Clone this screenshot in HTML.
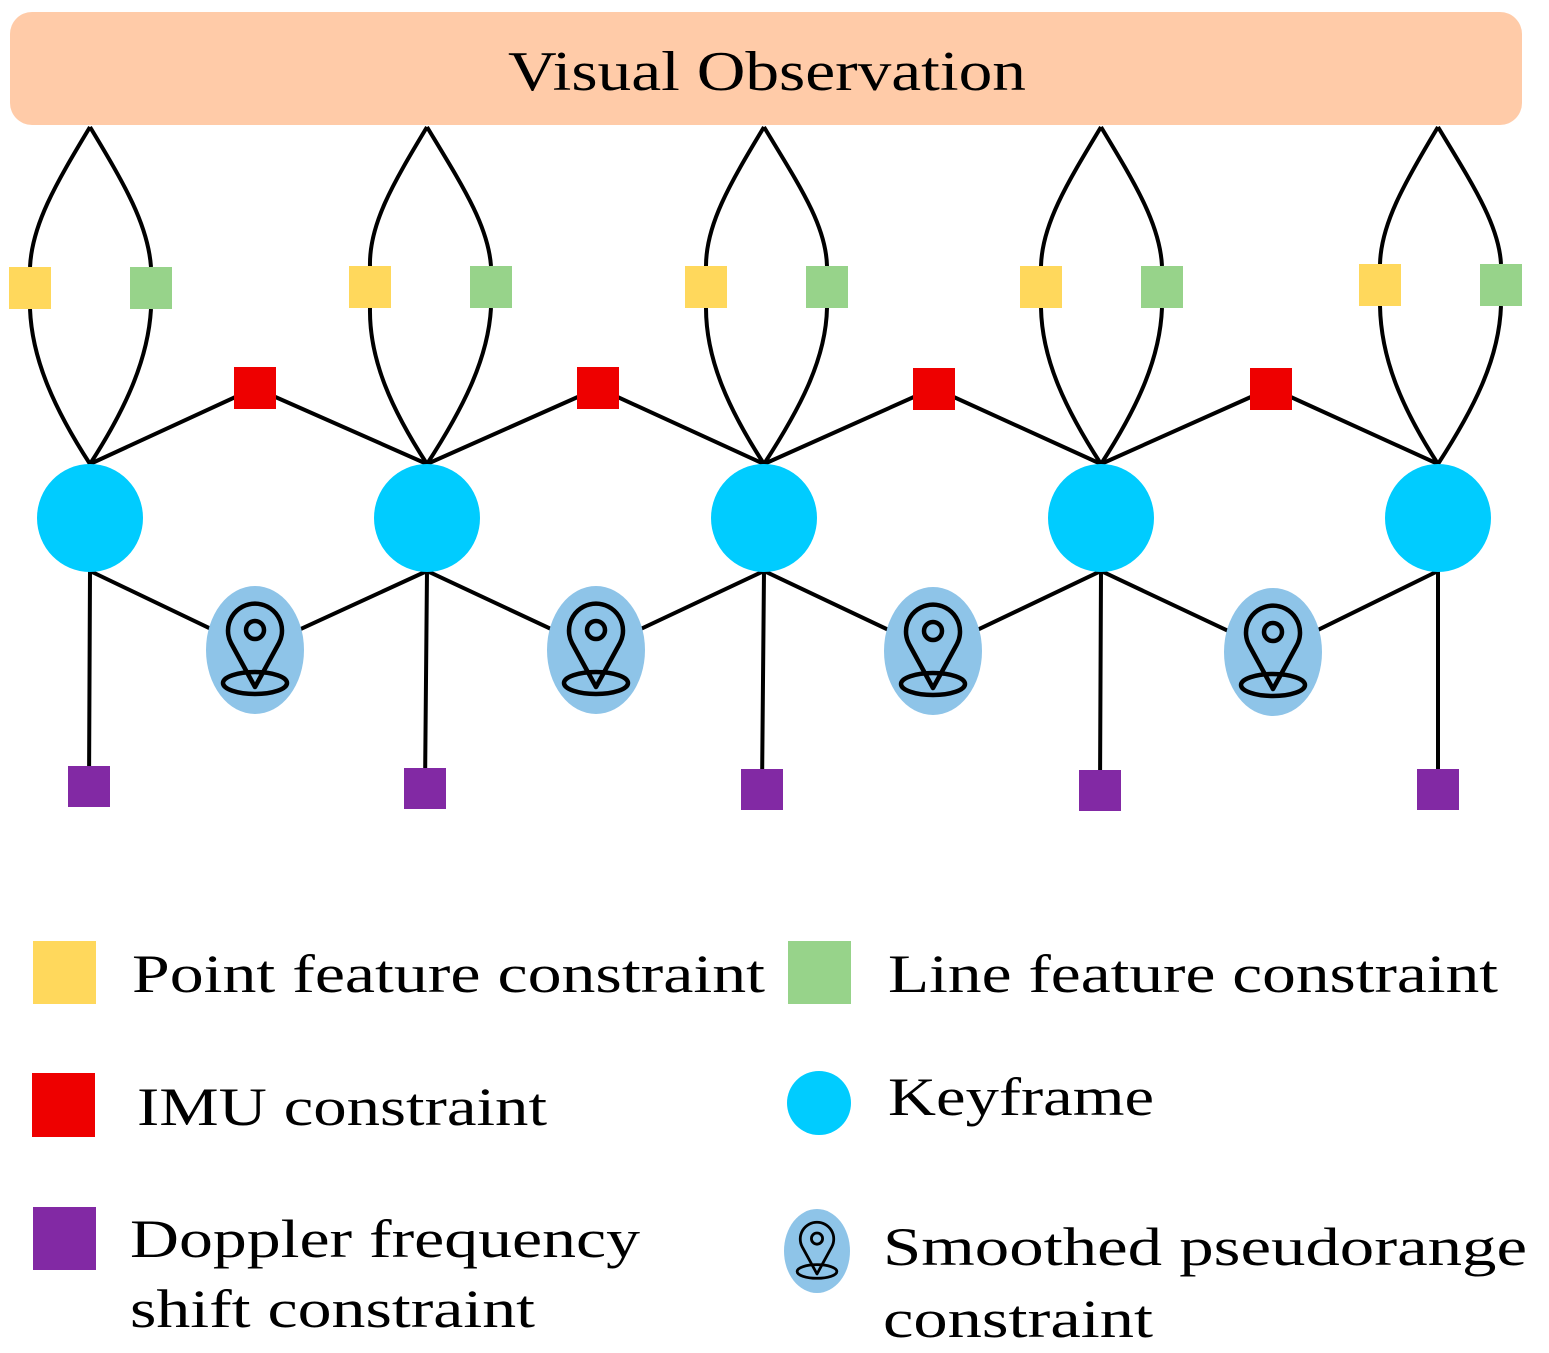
<!DOCTYPE html>
<html><head><meta charset="utf-8"><style>html,body{margin:0;padding:0;background:#fff}svg{display:block}</style></head>
<body>
<svg width="1549" height="1353" viewBox="0 0 1549 1353" xmlns="http://www.w3.org/2000/svg" font-family="'Liberation Serif', serif">
<defs>
<g id="pin">
<path d="M0,37 L-24,-7 A27,27 0 1 1 24,-7 Z" fill="none" stroke="#000" stroke-width="4.5" stroke-linejoin="round"/>
<circle cx="0" cy="-20" r="9" fill="none" stroke="#000" stroke-width="4.5"/>
<ellipse cx="0" cy="33" rx="32" ry="11" fill="none" stroke="#000" stroke-width="4.5"/>
</g>
</defs>
<rect x="10" y="12" width="1512" height="113" rx="22" fill="#FFCBA8"/>
<text x="767" y="90" font-size="56" text-anchor="middle" textLength="518" lengthAdjust="spacingAndGlyphs">Visual Observation</text>
<g stroke="#000" stroke-width="4" fill="none">
<!-- column curves -->
<path d="M90,127 C55,185 32,225 30,267 M30,309 C32,360 55,410 90,464 M90,127 C125,185 148,225 151,267 M151,309 C148,360 125,410 90,464"/>
<path d="M427,127 C392,185 369,225 370,266 M370,308 C369,360 392,410 427,464 M427,127 C462,185 488,225 491,266 M491,308 C488,360 462,410 427,464"/>
<path d="M764,127 C729,185 706,225 706,266 M706,308 C706,360 729,410 764,464 M764,127 C799,185 826,225 827,266 M827,308 C826,360 799,410 764,464"/>
<path d="M1101,127 C1066,185 1042,225 1041,266 M1041,308 C1042,360 1066,410 1101,464 M1101,127 C1136,185 1160,225 1162,266 M1162,308 C1160,360 1136,410 1101,464"/>
<path d="M1438,127 C1403,185 1381,225 1380,264 M1380,306 C1381,360 1403,410 1438,464 M1438,127 C1473,185 1499,225 1501,264 M1501,306 C1499,360 1473,410 1438,464"/>
<!-- IMU lines -->
<path d="M90,464 L255,388 L427,464 L598,388 L764,464 L934,388 L1101,464 L1271,388 L1438,464"/>
<!-- pin lines -->
<path d="M90,571 L255,650 L427,571 L596,650 L764,571 L933,651 L1101,571 L1273,652 L1438,571"/>
<!-- verticals -->
<path d="M90,571 L89,789 M427,571 L425,789 M764,571 L762,790 M1101,571 L1100,791 M1438,571 L1438,790"/>
</g>
<!-- squares -->
<g fill="#FFD85C">
<rect x="9" y="267" width="42" height="42"/><rect x="349" y="266" width="42" height="42"/><rect x="685" y="266" width="42" height="42"/><rect x="1020" y="266" width="42" height="42"/><rect x="1359" y="264" width="42" height="42"/>
</g>
<g fill="#97D38A">
<rect x="130" y="267" width="42" height="42"/><rect x="470" y="266" width="42" height="42"/><rect x="806" y="266" width="42" height="42"/><rect x="1141" y="266" width="42" height="42"/><rect x="1480" y="264" width="42" height="42"/>
</g>
<g fill="#EE0000">
<rect x="234" y="367" width="42" height="42"/><rect x="577" y="367" width="42" height="42"/><rect x="913" y="368" width="42" height="42"/><rect x="1250" y="368" width="42" height="42"/>
</g>
<g fill="#8229A4">
<rect x="68" y="766" width="42" height="41"/><rect x="404" y="768" width="42" height="41"/><rect x="741" y="769" width="42" height="41"/><rect x="1079" y="770" width="42" height="41"/><rect x="1417" y="769" width="42" height="41"/>
</g>
<g fill="#00CCFF">
<ellipse cx="90" cy="518" rx="53" ry="54"/><ellipse cx="427" cy="518" rx="53" ry="54"/><ellipse cx="764" cy="518" rx="53" ry="54"/><ellipse cx="1101" cy="518" rx="53" ry="54"/><ellipse cx="1438" cy="518" rx="53" ry="54"/>
</g>
<g fill="#8EC4E8">
<ellipse cx="255" cy="650" rx="49" ry="64"/><ellipse cx="596" cy="650" rx="49" ry="64"/><ellipse cx="933" cy="651" rx="49" ry="64"/><ellipse cx="1273" cy="652" rx="49" ry="64"/>
</g>
<use href="#pin" x="255" y="650"/><use href="#pin" x="596" y="650"/><use href="#pin" x="933" y="651"/><use href="#pin" x="1273" y="652"/>
<!-- legend -->
<rect x="33" y="941" width="63" height="63" fill="#FFD85C"/>
<text x="132" y="992" font-size="54" textLength="633" lengthAdjust="spacingAndGlyphs">Point feature constraint</text>
<rect x="788" y="941" width="63" height="63" fill="#97D38A"/>
<text x="888" y="992" font-size="54" textLength="610" lengthAdjust="spacingAndGlyphs">Line feature constraint</text>
<rect x="32" y="1073" width="63" height="64" fill="#EE0000"/>
<text x="137" y="1125" font-size="54" textLength="410" lengthAdjust="spacingAndGlyphs">IMU constraint</text>
<circle cx="819" cy="1103" r="32" fill="#00CCFF"/>
<text x="888" y="1115" font-size="54" textLength="266" lengthAdjust="spacingAndGlyphs">Keyframe</text>
<rect x="33" y="1207" width="63" height="63" fill="#8229A4"/>
<text x="130" y="1257" font-size="54" textLength="510" lengthAdjust="spacingAndGlyphs">Doppler frequency</text>
<text x="130" y="1327" font-size="54" textLength="405" lengthAdjust="spacingAndGlyphs">shift constraint</text>
<ellipse cx="817" cy="1251" rx="33" ry="42" fill="#8EC4E8"/>
<g transform="translate(817,1251) scale(0.62)"><use href="#pin"/></g>
<text x="883" y="1265" font-size="54" textLength="644" lengthAdjust="spacingAndGlyphs">Smoothed pseudorange</text>
<text x="883" y="1337" font-size="54" textLength="270" lengthAdjust="spacingAndGlyphs">constraint</text>
</svg>
</body></html>
